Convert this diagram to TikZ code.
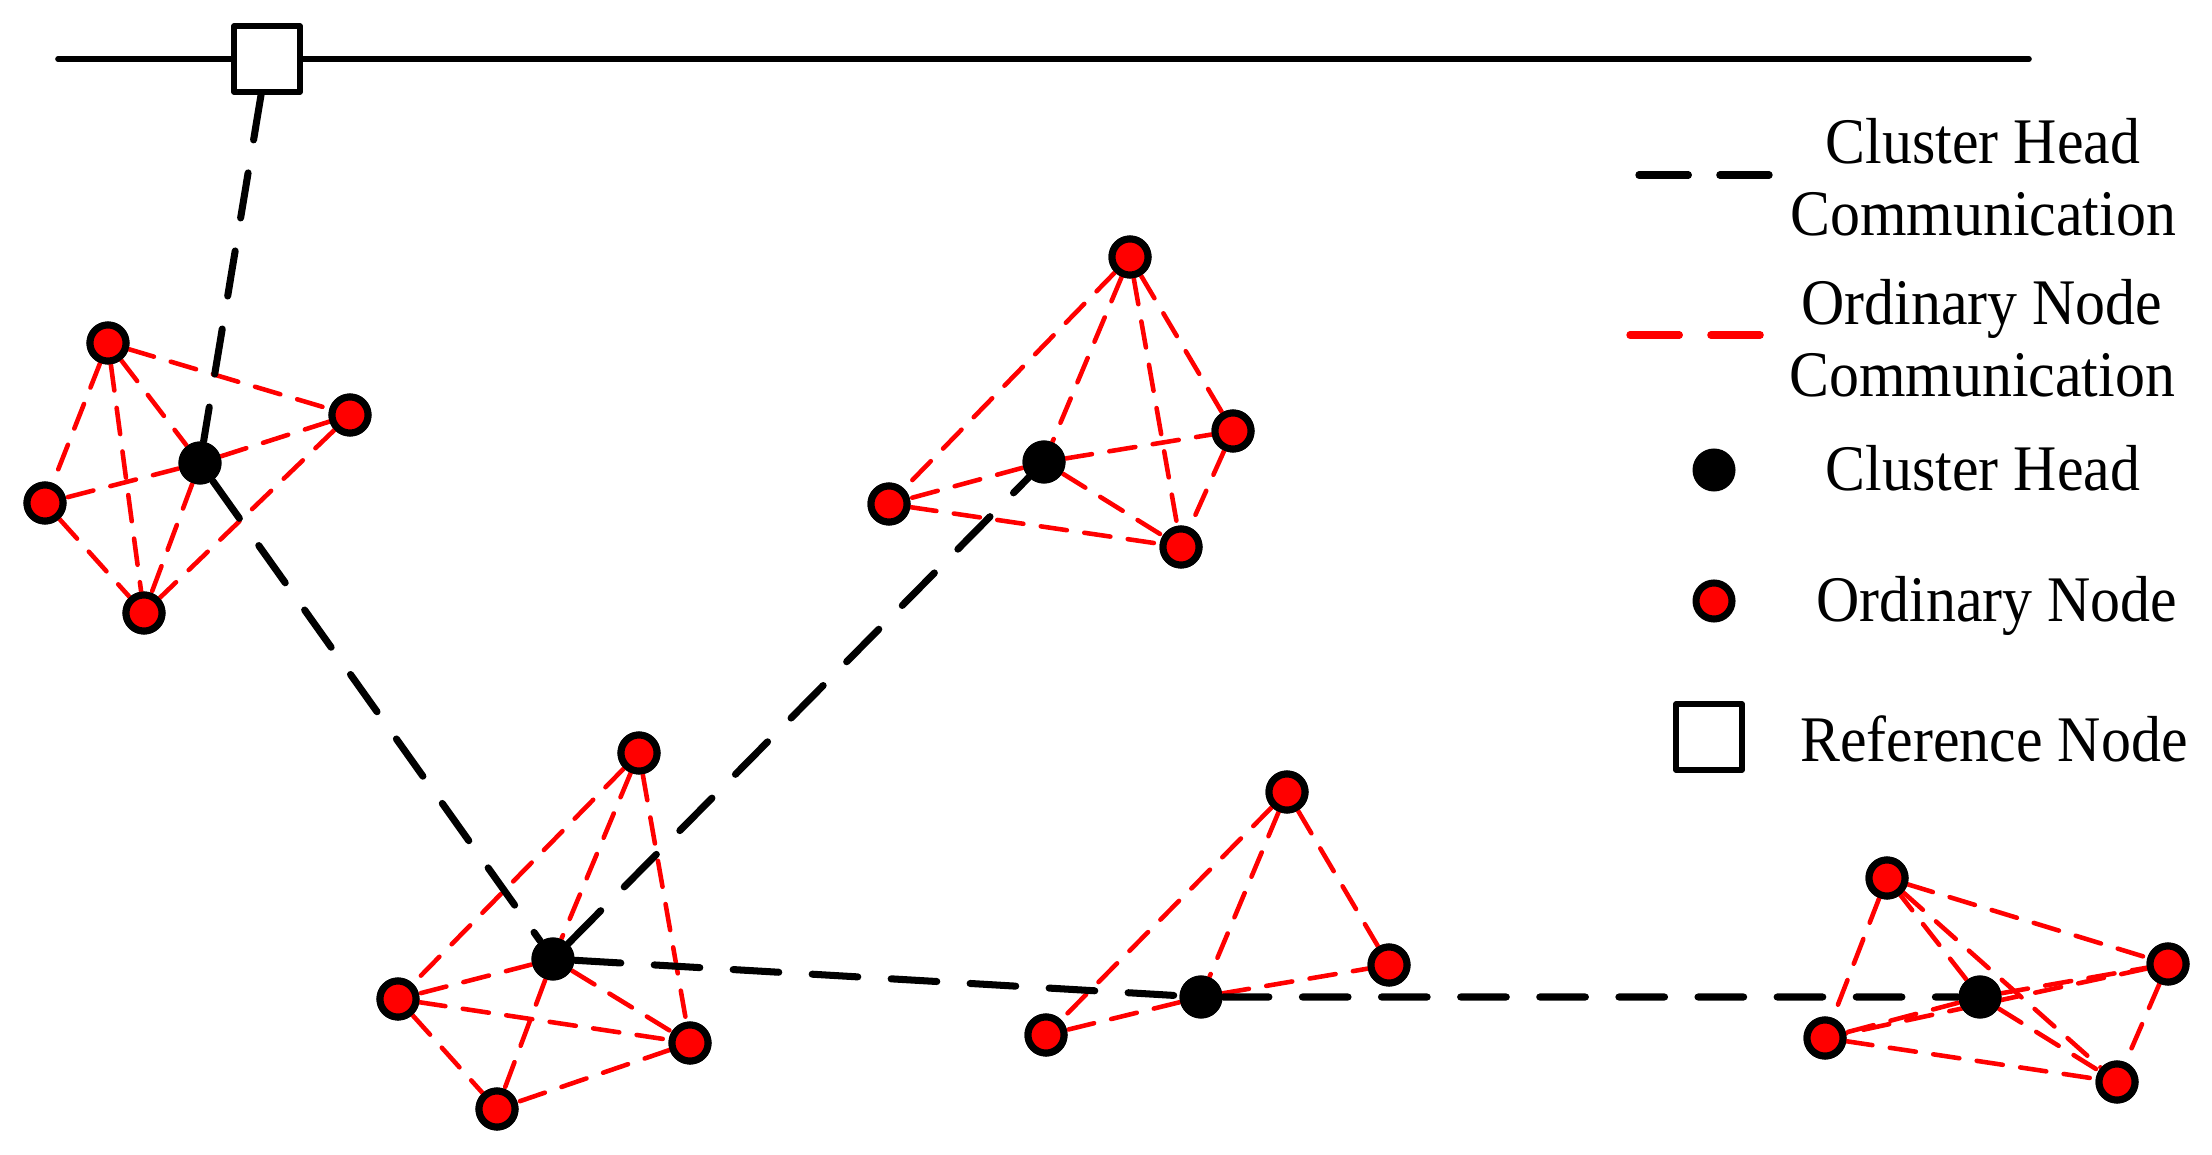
\documentclass[tikz,border=0pt]{standalone}
\usepackage{fontspec}
\setmainfont{Liberation Serif}[FakeStretch=0.92]
\begin{document}
\begin{tikzpicture}[x=0.01cm, y=-0.01cm, line join=round, line cap=round,
	font=\fontsize{18.5}{20.5}\selectfont,
	chnode/.style={circle, fill=black, inner sep=0pt, minimum size=0.43cm},
	ornode/.style={circle, draw=black, line width=2pt, fill=red, inner sep=0pt, minimum size=0.36cm},
	refnode/.style={draw=black, line width=1.6pt, fill=white, inner sep=0pt, minimum size=0.66cm},
	chlink/.style={black, line width=2pt, dash pattern=on 13pt off 9.5pt},
	onlink/.style={red, line width=1.3pt, dash pattern=on 7.5pt off 5pt},
	lgtext/.style={anchor=base, align=center, inner sep=0pt}]
	\useasboundingbox (0,0) rectangle (2212,1155);
	\path
	(58,59) coordinate (L0)
	(2029,59) coordinate (L1)
	% cluster 1
	(200,463) node[chnode] (c1-0) {}
	(108,343) node[ornode] (c1-1) {}
	(350,415) node[ornode] (c1-2) {}
	(45,503) node[ornode] (c1-3) {}
	(144,613) node[ornode] (c1-4) {}
	% cluster 2
	(1044,462) node[chnode] (c2-0) {}
	(1130,257) node[ornode] (c2-1) {}
	(1233,431) node[ornode] (c2-2) {}
	(889,504) node[ornode] (c2-3) {}
	(1181,547) node[ornode] (c2-4) {}
	% cluster 3
	(553,959) node[chnode] (c3-0) {}
	(639,753) node[ornode] (c3-1) {}
	(398,999) node[ornode] (c3-2) {}
	(690,1043) node[ornode] (c3-3) {}
	(497,1109) node[ornode] (c3-4) {}
	% cluster 4
	(1201,997) node[chnode] (c4-0) {}
	(1287,792) node[ornode] (c4-1) {}
	(1389,965) node[ornode] (c4-2) {}
	(1046,1035) node[ornode] (c4-3) {}
	% cluster 5
	(1980,997) node[chnode] (c5-0) {}
	(1887,878) node[ornode] (c5-1) {}
	(2168,964) node[ornode] (c5-2) {}
	(1825,1038) node[ornode] (c5-3) {}
	(2117,1082) node[ornode] (c5-4) {}
	;
	
	\draw[line width=1.6pt] (L0)--(L1);
	\node[refnode] (R) at (267,59) {};
	
	\foreach \a/\b in {1-1/1-2,1-1/1-3,1-1/1-4,1-1/1-0,1-0/1-2,1-0/1-3,1-0/1-4,1-2/1-4,1-3/1-4,
		2-1/2-3,2-1/2-0,2-1/2-4,2-1/2-2,2-0/2-3,2-0/2-2,2-0/2-4,2-3/2-4,2-2/2-4,
		3-1/3-2,3-1/3-0,3-1/3-3,3-0/3-2,3-0/3-3,3-0/3-4,3-2/3-3,3-2/3-4,3-3/3-4,
		4-1/4-3,4-1/4-0,4-1/4-2,4-0/4-3,4-0/4-2}
	\draw[onlink] (c\a)--(c\b);
	\foreach \i in {0,...,4}
	\foreach \j in {0,...,4}
	{\ifnum\i<\j \draw[onlink] (c5-\i)--(c5-\j); \fi}
	
	\draw[chlink] (R)--(c1-0)--(c3-0)--(c2-0);
	\draw[chlink] (c3-0)--(c4-0)--(c5-0);
	
	% nodes again on top
	\foreach \k/\n in {1/4,2/4,3/4,4/3,5/4}
	{\fill (c\k-0) circle (0.215cm);
	\foreach \i in {1,...,\n}
	\filldraw[fill=red, line width=2pt] (c\k-\i) circle (0.18cm);}
	
	% legend
	\path
	(1639,175) coordinate (K0)
	(1769,175) coordinate (K1)
	(1630,335) coordinate (K2)
	(1763,335) coordinate (K3)
	(1714,470) node[chnode] (K4) {}
	(1714,601) node[ornode] (K5) {}
	(1709,737) node[refnode] (K6) {}
	;
	\draw[black, line width=2.1pt, dash pattern=on 14pt off 9pt] (K0)--(K1);
	\draw[red, line width=2.1pt, dash pattern=on 14pt off 9pt] (K2)--(K3);
	\node[lgtext] (T0) at (1983,236) {Cluster Head\\Communication};
	\node[lgtext] (T1) at (1982,397) {Ordinary Node\\Communication};
	\node[lgtext] (T2) at (1983,491) {Cluster Head};
	\node[lgtext] (T3) at (1997,621) {Ordinary Node};
	\node[lgtext] (T4) at (1994,761) {Reference Node};
\end{tikzpicture}
\end{document}
